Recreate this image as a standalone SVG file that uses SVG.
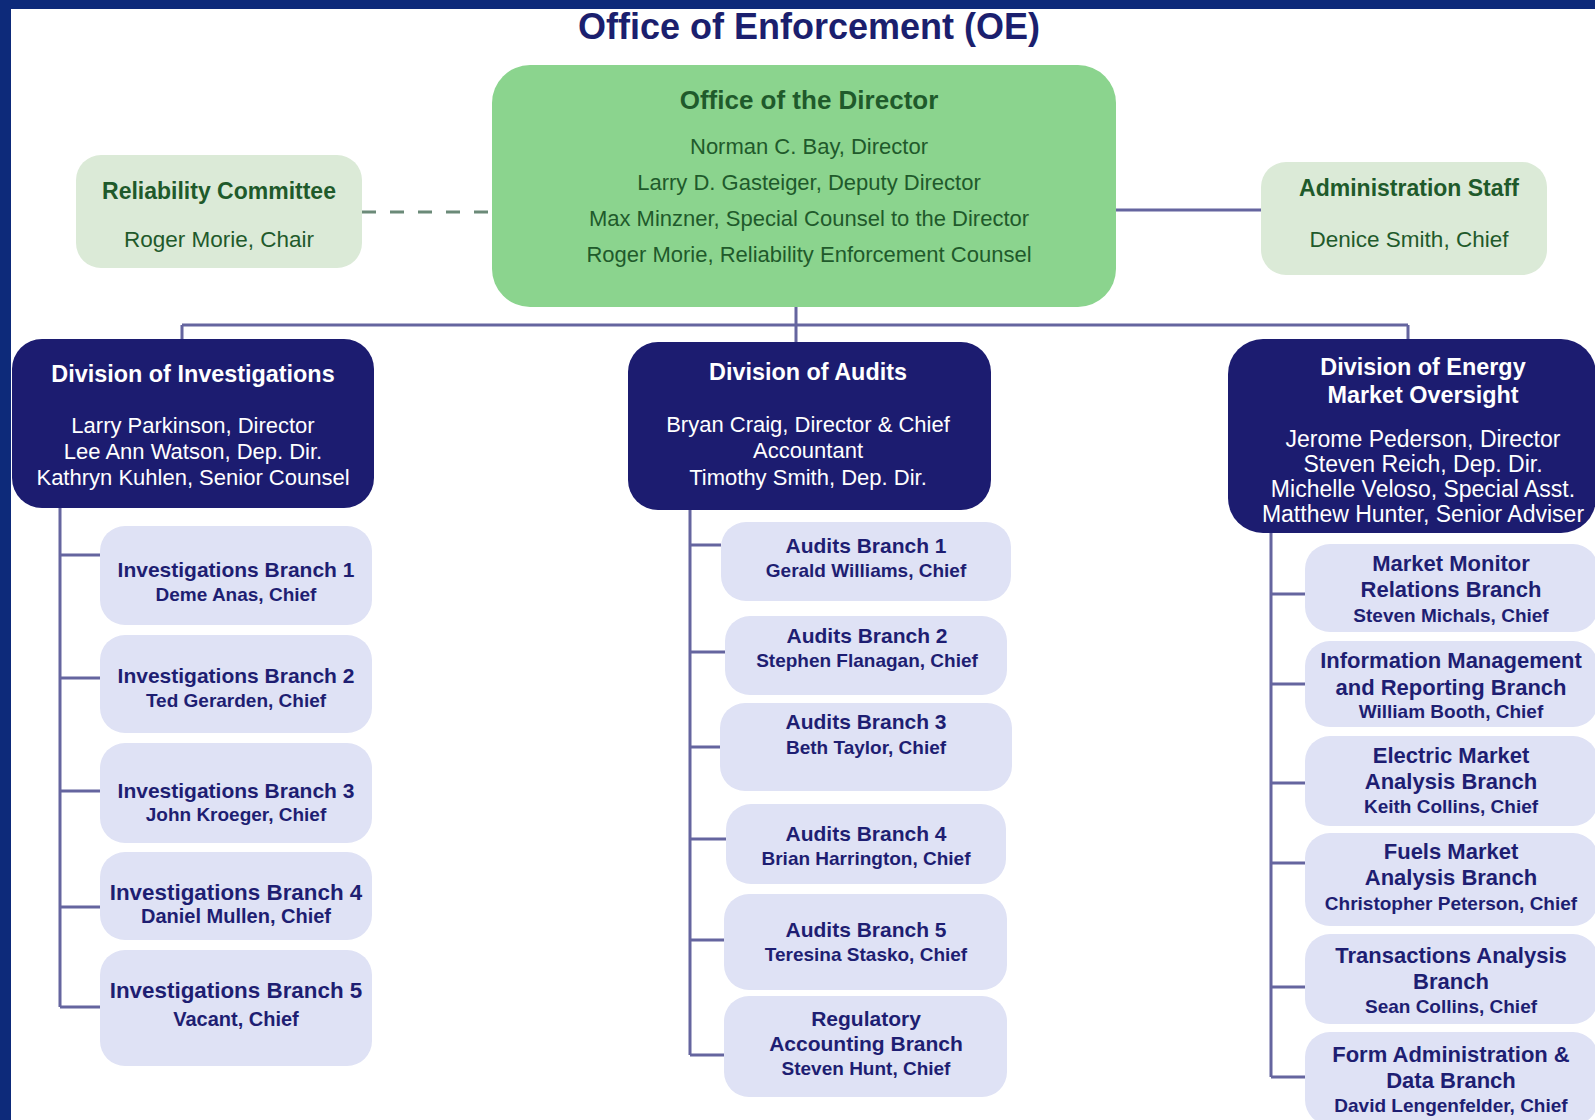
<svg xmlns="http://www.w3.org/2000/svg" width="1595" height="1120" viewBox="0 0 1595 1120">
  <style>
    text { font-family: "Liberation Sans", Arial, sans-serif; text-anchor: middle; }
    .title { font-size: 36px; font-weight: bold; fill: #1b1f6e; }
    .od { fill: #8bd48e; }
    .side { fill: #dbead7; }
    .div { fill: #1c1c70; }
    .br { fill: #dfe2f5; }
    .gh { font-size: 23px; font-weight: bold; fill: #1f5a2b; }
    .gt { font-size: 22px; fill: #1f5a2b; }
    .dh { font-size: 23.4px; font-weight: bold; fill: #ffffff; }
    .dt { font-size: 22px; fill: #ffffff; }
    .bh { font-size: 21px; font-weight: bold; fill: #1e1e72; }
    .bt { font-size: 19px; font-weight: bold; fill: #1e1e72; }
    .ln { stroke: #65659f; stroke-width: 3; fill: none; }
    .dash { stroke: #6b8a78; stroke-width: 3; fill: none; stroke-dasharray: 14 14; }
  </style>

  <!-- page frame -->
  <rect x="0" y="0" width="1595" height="1120" fill="#ffffff"/>
  <rect x="0" y="0" width="1595" height="9" fill="#0d2a7a"/>
  <rect x="0" y="0" width="11" height="1120" fill="#0d2a7a"/>

  <text class="title" x="809" y="39">Office of Enforcement (OE)</text>

  <!-- connectors -->
  <g id="connectors">
    <path class="dash" d="M362 212 H492"/>
    <path class="ln" d="M1116 210 H1261"/>
    <path class="ln" d="M796 307 V342 M182 325 H1408 M182 325 V339 M1408 325 V339"/>
    <!-- Division of Investigations branches -->
    <path class="ln" d="M60 508 V1007 M60 555 H100 M60 678 H100 M60 791 H100 M60 907 H100 M60 1007 H100"/>
    <!-- Division of Audits branches -->
    <path class="ln" d="M690 510 V1055 M690 545 H721 M690 652 H725 M690 747 H720 M690 839 H726 M690 940 H724 M690 1055 H724"/>
    <!-- Division of Energy Market Oversight branches -->
    <path class="ln" d="M1271 533 V1077 M1271 594 H1305 M1271 684 H1305 M1271 783 H1305 M1271 863 H1305 M1271 987 H1305 M1271 1077 H1305"/>
  </g>

  <!-- top level -->
  <g id="office-director">
    <rect class="od" x="492" y="65" width="624" height="242" rx="38"/>
    <text class="gh" x="809" y="109" style="font-size:26px">Office of the Director</text>
    <text class="gt" x="809" y="154">Norman C. Bay, Director</text>
    <text class="gt" x="809" y="190">Larry D. Gasteiger, Deputy Director</text>
    <text class="gt" x="809" y="226">Max Minzner, Special Counsel to the Director</text>
    <text class="gt" x="809" y="262">Roger Morie, Reliability Enforcement Counsel</text>
  </g>
  <g id="reliability-committee">
    <rect class="side" x="76" y="155" width="286" height="113" rx="25"/>
    <text class="gh" x="219" y="199">Reliability Committee</text>
    <text class="gt" x="219" y="247" style="font-size:22.5px">Roger Morie, Chair</text>
  </g>
  <g id="administration-staff">
    <rect class="side" x="1261" y="162" width="286" height="113" rx="25"/>
    <text class="gh" x="1409" y="196">Administration Staff</text>
    <text class="gt" x="1409" y="247" style="font-size:22.5px">Denice Smith, Chief</text>
  </g>

  <!-- divisions -->
  <g id="div-investigations">
    <rect class="div" x="12" y="339" width="362" height="169" rx="30"/>
    <text class="dh" x="193" y="382">Division of Investigations</text>
    <text class="dt" x="193" y="433">Larry Parkinson, Director</text>
    <text class="dt" x="193" y="459">Lee Ann Watson, Dep. Dir.</text>
    <text class="dt" x="193" y="485">Kathryn Kuhlen, Senior Counsel</text>
  </g>
  <g id="div-audits">
    <rect class="div" x="628" y="342" width="363" height="168" rx="30"/>
    <text class="dh" x="808" y="380">Division of Audits</text>
    <text class="dt" x="808" y="432">Bryan Craig, Director &amp; Chief</text>
    <text class="dt" x="808" y="458">Accountant</text>
    <text class="dt" x="808" y="485">Timothy Smith, Dep. Dir.</text>
  </g>
  <g id="div-energy-market-oversight">
    <rect class="div" x="1228" y="339" width="368" height="194" rx="35"/>
    <text class="dh" x="1423" y="375">Division of Energy</text>
    <text class="dh" x="1423" y="403">Market Oversight</text>
    <text class="dt" x="1423" y="447" style="font-size:23px">Jerome Pederson, Director</text>
    <text class="dt" x="1423" y="472" style="font-size:23px">Steven Reich, Dep. Dir.</text>
    <text class="dt" x="1423" y="497" style="font-size:23px">Michelle Veloso, Special Asst.</text>
    <text class="dt" x="1423" y="522" style="font-size:23px">Matthew Hunter, Senior Adviser</text>
  </g>

  <!-- investigations branches -->
  <g id="inv-branch-1">
    <rect class="br" x="100" y="526" width="272" height="99" rx="25"/>
    <text class="bh" x="236" y="577">Investigations Branch 1</text>
    <text class="bt" x="236" y="601">Deme Anas, Chief</text>
  </g>
  <g id="inv-branch-2">
    <rect class="br" x="100" y="635" width="272" height="98" rx="25"/>
    <text class="bh" x="236" y="683">Investigations Branch 2</text>
    <text class="bt" x="236" y="707">Ted Gerarden, Chief</text>
  </g>
  <g id="inv-branch-3">
    <rect class="br" x="100" y="743" width="272" height="100" rx="25"/>
    <text class="bh" x="236" y="798">Investigations Branch 3</text>
    <text class="bt" x="236" y="821">John Kroeger, Chief</text>
  </g>
  <g id="inv-branch-4">
    <rect class="br" x="100" y="852" width="272" height="88" rx="25"/>
    <text class="bh" x="236" y="900" style="font-size:22.4px">Investigations Branch 4</text>
    <text class="bt" x="236" y="923" style="font-size:20px">Daniel Mullen, Chief</text>
  </g>
  <g id="inv-branch-5">
    <rect class="br" x="100" y="950" width="272" height="116" rx="25"/>
    <text class="bh" x="236" y="998" style="font-size:22.4px">Investigations Branch 5</text>
    <text class="bt" x="236" y="1026" style="font-size:20px">Vacant, Chief</text>
  </g>

  <!-- audits branches -->
  <g id="aud-branch-1">
    <rect class="br" x="721" y="522" width="290" height="79" rx="25"/>
    <text class="bh" x="866" y="553">Audits Branch 1</text>
    <text class="bt" x="866" y="577">Gerald Williams, Chief</text>
  </g>
  <g id="aud-branch-2">
    <rect class="br" x="725" y="616" width="282" height="79" rx="25"/>
    <text class="bh" x="867" y="643">Audits Branch 2</text>
    <text class="bt" x="867" y="667">Stephen Flanagan, Chief</text>
  </g>
  <g id="aud-branch-3">
    <rect class="br" x="720" y="703" width="292" height="88" rx="25"/>
    <text class="bh" x="866" y="729">Audits Branch 3</text>
    <text class="bt" x="866" y="754">Beth Taylor, Chief</text>
  </g>
  <g id="aud-branch-4">
    <rect class="br" x="726" y="804" width="280" height="80" rx="25"/>
    <text class="bh" x="866" y="841">Audits Branch 4</text>
    <text class="bt" x="866" y="865">Brian Harrington, Chief</text>
  </g>
  <g id="aud-branch-5">
    <rect class="br" x="724" y="894" width="283" height="96" rx="25"/>
    <text class="bh" x="866" y="937">Audits Branch 5</text>
    <text class="bt" x="866" y="961">Teresina Stasko, Chief</text>
  </g>
  <g id="reg-accounting">
    <rect class="br" x="724" y="996" width="283" height="101" rx="25"/>
    <text class="bh" x="866" y="1026">Regulatory</text>
    <text class="bh" x="866" y="1051">Accounting Branch</text>
    <text class="bt" x="866" y="1075">Steven Hunt, Chief</text>
  </g>

  <!-- energy market oversight branches -->
  <g id="market-monitor">
    <rect class="br" x="1305" y="544" width="293" height="88" rx="25"/>
    <text class="bh" x="1451" y="571" style="font-size:22px">Market Monitor</text>
    <text class="bh" x="1451" y="597" style="font-size:22px">Relations Branch</text>
    <text class="bt" x="1451" y="622">Steven Michals, Chief</text>
  </g>
  <g id="info-management">
    <rect class="br" x="1305" y="641" width="293" height="86" rx="25"/>
    <text class="bh" x="1451" y="668" style="font-size:22px">Information Management</text>
    <text class="bh" x="1451" y="695" style="font-size:22px">and Reporting Branch</text>
    <text class="bt" x="1451" y="718">William Booth, Chief</text>
  </g>
  <g id="electric-market">
    <rect class="br" x="1305" y="736" width="293" height="90" rx="25"/>
    <text class="bh" x="1451" y="763" style="font-size:22px">Electric Market</text>
    <text class="bh" x="1451" y="789" style="font-size:22px">Analysis Branch</text>
    <text class="bt" x="1451" y="813">Keith Collins, Chief</text>
  </g>
  <g id="fuels-market">
    <rect class="br" x="1305" y="833" width="293" height="93" rx="25"/>
    <text class="bh" x="1451" y="859" style="font-size:22px">Fuels Market</text>
    <text class="bh" x="1451" y="885" style="font-size:22px">Analysis Branch</text>
    <text class="bt" x="1451" y="910">Christopher Peterson, Chief</text>
  </g>
  <g id="transactions-analysis">
    <rect class="br" x="1305" y="934" width="293" height="90" rx="25"/>
    <text class="bh" x="1451" y="963" style="font-size:22px">Transactions Analysis</text>
    <text class="bh" x="1451" y="989" style="font-size:22px">Branch</text>
    <text class="bt" x="1451" y="1013">Sean Collins, Chief</text>
  </g>
  <g id="form-administration">
    <rect class="br" x="1305" y="1032" width="293" height="93" rx="25"/>
    <text class="bh" x="1451" y="1062" style="font-size:22px">Form Administration &amp;</text>
    <text class="bh" x="1451" y="1088" style="font-size:22px">Data Branch</text>
    <text class="bt" x="1451" y="1112">David Lengenfelder, Chief</text>
  </g>
</svg>
